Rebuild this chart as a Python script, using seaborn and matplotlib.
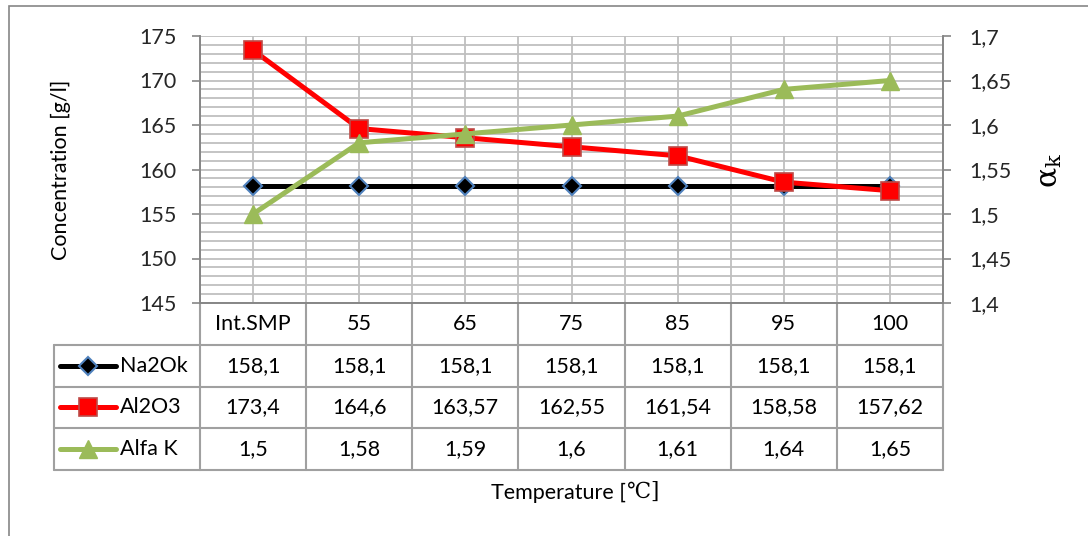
import numpy as np
import matplotlib
matplotlib.use("Agg")
import matplotlib.pyplot as plt
import matplotlib.transforms as mtransforms
from matplotlib.lines import Line2D
from matplotlib.patches import Rectangle
from matplotlib.ticker import MultipleLocator, FixedLocator
import seaborn as sns

# ---------------- data ----------------
categories = ["Int.SMP", "55", "65", "75", "85", "95", "100"]
na2ok = [158.1, 158.1, 158.1, 158.1, 158.1, 158.1, 158.1]
al2o3 = [173.4, 164.6, 163.57, 162.55, 161.54, 158.58, 157.62]
alfa_k = [1.5, 1.58, 1.59, 1.6, 1.61, 1.64, 1.65]
series_names = ["Na2Ok", "Al2O3", "Alfa K"]
left_ticks = [145, 150, 155, 160, 165, 170, 175]
right_ticks = [1.4, 1.45, 1.5, 1.55, 1.6, 1.65, 1.7]

# ---------------- style ----------------
sns.set_theme(style="white")
plt.rcParams["font.family"] = ["Lato", "DejaVu Sans"]
FS = 15.5
GRID = "#bfbfbf"
AXC = "#868686"
TBL = "#a0a0a0"

W, H = 1088, 536
fig = plt.figure(figsize=(W / 100, H / 100), dpi=100)
ax = fig.add_axes([200 / W, 1 - 303 / H, 743 / W, 267 / H])
ax2 = ax.twinx()

x = np.arange(len(categories))

styles = [
    dict(color="black", marker="D", markersize=9, markerfacecolor="black",
         markeredgecolor="#4f81bd", markeredgewidth=1.5),
    dict(color="#ff0000", marker="s", markersize=13, markerfacecolor="#ff0000",
         markeredgecolor="#be4b48", markeredgewidth=1.2),
    dict(color="#9bbb59", marker="^", markersize=13, markerfacecolor="#9bbb59",
         markeredgecolor="#9bbb59", markeredgewidth=1.0),
]
LW = 3.6

sns.lineplot(x=x, y=na2ok, ax=ax, linewidth=LW, zorder=3, **styles[0])
sns.lineplot(x=x, y=al2o3, ax=ax, linewidth=LW, zorder=4, **styles[1])
sns.lineplot(x=x, y=alfa_k, ax=ax2, linewidth=LW, zorder=5, **styles[2])

# ---------------- axes ----------------
ax.set_xlim(-0.5, len(categories) - 0.5)
ax.set_ylim(left_ticks[0], left_ticks[-1])
ax2.set_ylim(right_ticks[0], right_ticks[-1])
ax.set_xlabel("")
ax.set_ylabel("")
ax2.set_ylabel("")

ax.yaxis.set_major_locator(FixedLocator(left_ticks))
ax.yaxis.set_minor_locator(MultipleLocator(1))
ax.set_yticklabels([f"{v:g}".replace(".", ",") for v in left_ticks])
ax2.yaxis.set_major_locator(FixedLocator(right_ticks))
ax2.set_yticklabels([f"{v:g}".replace(".", ",") for v in right_ticks])

ax.xaxis.set_major_locator(FixedLocator(x))
ax.xaxis.set_minor_locator(FixedLocator(np.arange(len(categories) + 1) - 0.5))
ax.set_xticklabels([])
ax.tick_params(axis="x", which="both", length=0)

ax.grid(True, which="both", axis="both", color=GRID, linewidth=1.3)
ax.set_axisbelow(True)
ax2.grid(False)

for a in (ax, ax2):
    for s in a.spines.values():
        s.set_color(AXC)
        s.set_linewidth(1.2)
    a.spines["top"].set_visible(False)

ax.tick_params(axis="y", which="major", direction="out", length=6, width=1.2,
               color=AXC, labelsize=FS, pad=11, left=True, right=False)
ax.tick_params(axis="y", which="minor", length=0)
ax2.tick_params(axis="y", which="major", direction="out", length=6, width=1.2,
                color=AXC, labelsize=FS, pad=13, right=True, left=False)
ax2.tick_params(axis="y", which="minor", length=0)

# ---------------- data table ----------------
h = 41.75 / 267
blend = mtransforms.blended_transform_factory(ax.transData, ax.transAxes)
x_left = (54 - 200) / 743
bounds = np.arange(len(categories) + 1) - 0.5

def hline(x0, x1, y, tr):
    ax.add_line(Line2D([x0, x1], [y, y], transform=tr, color=TBL, lw=1.5,
                       clip_on=False))

def vline(xv, y0, y1, tr):
    ax.add_line(Line2D([xv, xv], [y0, y1], transform=tr, color=TBL, lw=1.5,
                       clip_on=False))

for b in bounds:
    vline(b, 0, -4 * h, blend)
for k in range(1, 5):
    hline(bounds[0], bounds[-1], -k * h, blend)
    hline(x_left, 0, -k * h, ax.transAxes)
vline(x_left, -h, -4 * h, ax.transAxes)

for i, c in enumerate(categories):
    ax.text(x[i], -0.5 * h, c, transform=blend, ha="center", va="center",
            fontsize=FS, color="black")

all_series = [na2ok, al2o3, alfa_k]
for r, (name, vals, st) in enumerate(zip(series_names, all_series, styles)):
    yc = -(r + 1.5) * h
    for i, v in enumerate(vals):
        ax.text(x[i], yc, f"{v:g}".replace(".", ","), transform=blend,
                ha="center", va="center", fontsize=FS, color="black")
    ax.add_line(Line2D([(60 - 200) / 743, (116 - 200) / 743], [yc, yc],
                       transform=ax.transAxes, color=st["color"], lw=LW,
                       clip_on=False))
    ax.add_line(Line2D([(88 - 200) / 743], [yc], transform=ax.transAxes,
                       marker=st["marker"], markersize=st["markersize"],
                       markerfacecolor=st["markerfacecolor"],
                       markeredgecolor=st["markeredgecolor"],
                       markeredgewidth=st["markeredgewidth"],
                       linestyle="none", clip_on=False))
    ax.text((120 - 200) / 743, yc, name, transform=ax.transAxes,
            ha="left", va="center", fontsize=FS, color="black")

# ---------------- labels ----------------
fig.text(61 / W, 1 - 170 / H, "Concentration [g/l]", rotation=90,
         ha="center", va="center", fontsize=FS, color="black")
fig.text(1050 / W, 1 - 170 / H, "α$_\\mathrm{k}$", rotation=90,
         ha="center", va="center", fontsize=FS + 6, color="black",
         family=["DejaVu Serif"], math_fontfamily="dejavuserif")

t1 = fig.text(558 / W, 1 - 499 / H, "Temperature [", ha="center",
              va="baseline", fontsize=FS, color="black")
ax.annotate("℃]", xy=(1, 0), xycoords=t1, xytext=(1, 0),
            textcoords="offset points", ha="left", va="bottom",
            fontsize=FS, color="black", family=["DejaVu Serif"],
            annotation_clip=False)

# outer chart border
fig.patches.append(Rectangle((9 / W, -1), 3, 2 - 6 / H, transform=fig.transFigure,
                             fill=False, edgecolor=AXC, lw=1.2))

fig.savefig("out.png", dpi=100, facecolor="white")
